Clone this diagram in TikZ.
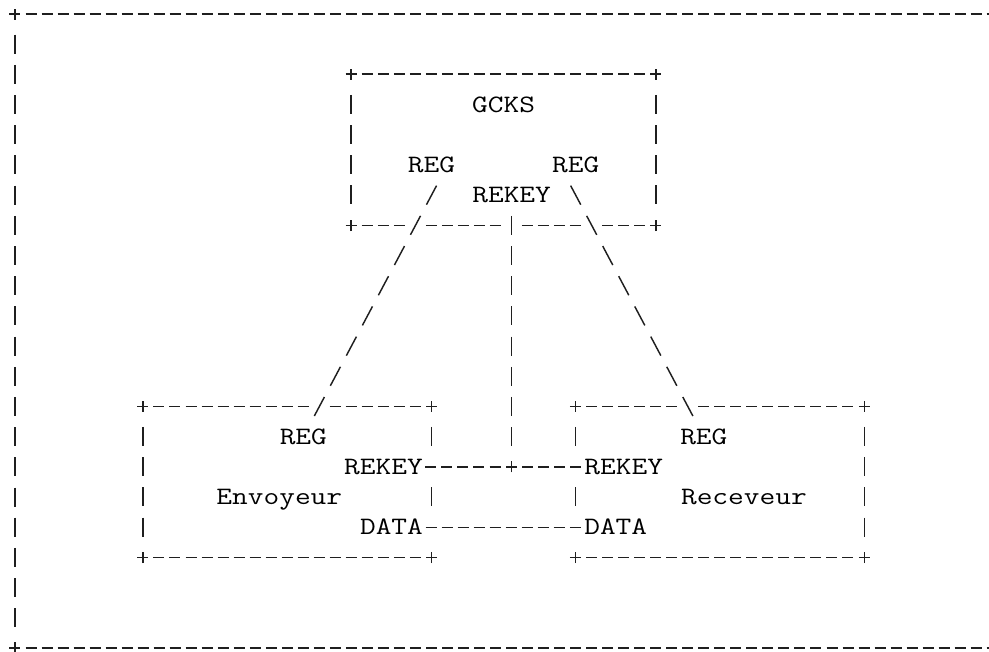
\documentclass[tikz,border=0pt]{standalone}
\usepackage{fontspec}
\usetikzlibrary{calc}
\newcommand\vsq[1]{\scalebox{1}[0.82]{#1}}
\newcommand\plusmark[1]{\draw[ln] (#1) +(-5.5pt,0) -- +(5.5pt,0) (#1) +(0,-5.5pt) -- +(0,5.5pt);}
\tikzset{
  ln/.style={line width=1.45pt, draw=black!88},
  hd/.style={ln, dash pattern=on 11pt off 5.02pt},
  vd/.style={ln, dash pattern=on 19pt off 11.19pt},
  sd/.style={ln, dash pattern=on 21.5pt off 12.68pt, shorten <=-10.75pt, shorten >=-10.75pt},
  hedge/.style={shorten <=10.52pt, shorten >=10.52pt},
  vedge/.style={shorten <=20.69pt, shorten >=20.69pt},
  lbl/.style={inner sep=0pt, anchor=center, text height=15.3pt, text depth=0pt,
              font=\ttfamily\fontsize{30.51pt}{30.51pt}\selectfont},
  boxnode/.style={draw=none, inner sep=0pt, minimum width=#1, minimum height=150.95pt}
}
\begin{document}
\begin{tikzpicture}[x=16.02pt, y=-30.19pt]
\useasboundingbox (-0.936,-0.464) rectangle (60.80,21.13);
\clip (-0.936,-0.464) rectangle (60.80,21.13);

% outer frame
\coordinate (ftl) at (0,0);
\coordinate (fbl) at (0,21);
\coordinate (ftr) at (61,0);
\coordinate (fbr) at (61,21);
\draw[hd, shorten <=10.52pt, shorten >=-5.5pt] (ftl) -- (ftr);
\draw[hd, shorten <=10.52pt, shorten >=-5.5pt] (fbl) -- (fbr);
\draw[vd, vedge] (ftl) -- (fbl);
\plusmark{ftl}
\plusmark{fbl}

% boxes
\node[boxnode=304.38pt] (gcks) at (30.5,4.5) {};
\node[boxnode=288.36pt] (env) at (17,15.5) {};
\node[boxnode=288.36pt] (rec) at (44,15.5) {};

% GCKS box
\draw[hd, hedge] (gcks.north west) -- (gcks.north east);
\draw[vd, vedge] (gcks.north west) -- (gcks.south west);
\draw[vd, vedge] (gcks.north east) -- (gcks.south east);
\draw[ln, hedge, dash pattern=on 11pt off 5.02pt on 11pt off 5.02pt on 11pt off 21.04pt on 11pt off 5.02pt on 11pt off 5.02pt on 11pt off 5.02pt on 11pt off 5.02pt on 11pt off 21.04pt on 11pt off 5.02pt on 11pt off 5.02pt on 11pt off 5.02pt on 11pt off 21.04pt on 11pt off 5.02pt on 11pt off 5.02pt on 11pt off 5.02pt] (gcks.south west) -- (gcks.south east);
\plusmark{gcks.north west}
\plusmark{gcks.north east}
\plusmark{gcks.south west}
\plusmark{gcks.south east}

% Envoyeur box
\draw[ln, hedge, dash pattern=on 11pt off 5.02pt on 11pt off 5.02pt on 11pt off 5.02pt on 11pt off 5.02pt on 11pt off 5.02pt on 11pt off 5.02pt on 11pt off 5.02pt on 11pt off 5.02pt on 11pt off 5.02pt on 11pt off 21.04pt on 11pt off 5.02pt on 11pt off 5.02pt on 11pt off 5.02pt on 11pt off 5.02pt on 11pt off 5.02pt on 11pt off 5.02pt] (env.north west) -- (env.north east);
\draw[hd, hedge] (env.south west) -- (env.south east);
\draw[vd, vedge] (env.north west) -- (env.south west);
\draw[ln, vedge, dash pattern=on 19pt off 41.38pt] (env.north east) -- (env.south east);
\plusmark{env.north west}
\plusmark{env.north east}
\plusmark{env.south west}
\plusmark{env.south east}

% Receveur box
\draw[ln, hedge, dash pattern=on 11pt off 5.02pt on 11pt off 5.02pt on 11pt off 5.02pt on 11pt off 5.02pt on 11pt off 5.02pt on 11pt off 21.04pt on 11pt off 5.02pt on 11pt off 5.02pt on 11pt off 5.02pt on 11pt off 5.02pt on 11pt off 5.02pt on 11pt off 5.02pt on 11pt off 5.02pt on 11pt off 5.02pt on 11pt off 5.02pt on 11pt off 5.02pt] (rec.north west) -- (rec.north east);
\draw[hd, hedge] (rec.south west) -- (rec.south east);
\draw[ln, vedge, dash pattern=on 19pt off 41.38pt] (rec.north west) -- (rec.south west);
\draw[vd, vedge] (rec.north east) -- (rec.south east);
\plusmark{rec.north west}
\plusmark{rec.north east}
\plusmark{rec.south west}
\plusmark{rec.south east}

% labels
\node[lbl] (gcksT) at (30.5,3) {\vsq{GCKS}};
\node[lbl] (gRegL) at (26,5) {\vsq{REG}};
\node[lbl] (gRegR) at (35,5) {\vsq{REG}};
\node[lbl] (gRekey) at (31,6) {\vsq{REKEY}};
\node[lbl] (envReg) at (18,14) {\vsq{REG}};
\node[lbl] (envRekey) at (23,15) {\vsq{REKEY}};
\node[lbl] (envT) at (16.5,16) {\vsq{Envoyeur}};
\node[lbl] (envData) at (23.5,17) {\vsq{DATA}};
\node[lbl] (recReg) at (43,14) {\vsq{REG}};
\node[lbl] (recRekey) at (38,15) {\vsq{REKEY}};
\node[lbl] (recT) at (45.5,16) {\vsq{Receveur}};
\node[lbl] (recData) at (37.5,17) {\vsq{DATA}};

% connectors
\coordinate (sL1) at (26,6);
\coordinate (sL2) at (19,13);
\coordinate (sR1) at (35,6);
\coordinate (sR2) at (42,13);
\coordinate (jn) at (31,15);
\draw[sd] (sL1) -- (sL2);
\draw[sd] (sR1) -- (sR2);
\draw[vd, vedge] (gRekey.center) -- (jn);
\draw[hd, shorten <=2.5pt, shorten >=10.52pt] (envRekey.east) -- (jn);
\draw[hd, shorten <=10.52pt, shorten >=2.5pt] (jn) -- (recRekey.west);
\plusmark{jn}
\draw[hd, shorten <=2.5pt, shorten >=2.5pt] (envData.east) -- (recData.west);
\end{tikzpicture}
\end{document}
